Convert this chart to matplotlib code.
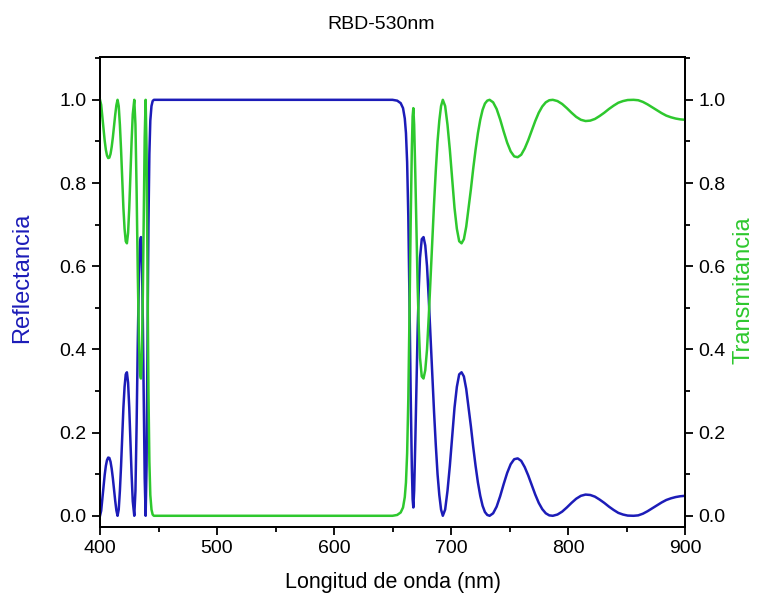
import matplotlib
matplotlib.use("Agg")
import matplotlib.pyplot as plt
from matplotlib.ticker import MultipleLocator

plt.rcParams['font.family'] = ['Liberation Sans', 'DejaVu Sans']

# values
wavelength = [400, 401, 402, 403, 404, 405, 406, 407, 408, 409,
              410, 411, 412, 413, 414, 415, 416, 417, 418, 419,
              420, 421, 422, 423, 424, 425, 426, 427, 428, 429.3,
              430.3, 431.3, 432.3, 433.3, 434.3, 435, 435.8, 436.6, 437.4, 438.2,
              439, 439.8, 440.6, 441.4, 442.2, 443, 444, 445, 446, 500,
              600, 650, 654, 657, 659, 660.5, 661.5, 662.5, 663.5, 664.5,
              665.5, 666.5, 667.2, 667.8, 668.5, 669.5, 670.5, 671.5, 672.5, 673.5,
              675, 676.5, 678, 679.5, 681, 682.5, 684, 685.5, 687, 688.5,
              690, 691.5, 693, 695, 697, 699, 701, 703, 705, 707,
              709, 711, 713, 715, 717, 719, 721, 723, 725, 727,
              729, 731, 733, 736, 739, 742, 745, 748, 751, 754,
              757, 760, 763, 766, 769, 772, 775, 778, 781, 784,
              787, 791, 795, 799, 803, 807, 811, 815, 819, 823,
              827, 831, 835, 839, 843, 847, 851, 856, 860, 864,
              868, 872, 876, 880, 884, 888, 892, 896, 900]

reflectance = [0.0, 0.012, 0.04, 0.07, 0.098, 0.12, 0.134, 0.14, 0.139, 0.13,
               0.113, 0.09, 0.063, 0.036, 0.013, 0.0, 0.015, 0.06, 0.12, 0.19,
               0.26, 0.31, 0.34, 0.345, 0.32, 0.26, 0.18, 0.1, 0.035, 0.0,
               0.06, 0.22, 0.42, 0.58, 0.66, 0.67, 0.62, 0.47, 0.27, 0.09,
               0.0, 0.12, 0.42, 0.7, 0.87, 0.95, 0.985, 0.997, 1.0, 1.0,
               1.0, 1.0, 0.998, 0.992, 0.98, 0.955, 0.92, 0.85, 0.72, 0.52,
               0.3, 0.12, 0.04, 0.02, 0.06, 0.18, 0.32, 0.45, 0.55, 0.62,
               0.665, 0.67, 0.65, 0.6, 0.52, 0.43, 0.34, 0.25, 0.17, 0.1,
               0.05, 0.015, 0.0, 0.015, 0.06, 0.12, 0.19, 0.26, 0.31, 0.34,
               0.345, 0.335, 0.305, 0.26, 0.215, 0.165, 0.12, 0.08, 0.048, 0.024,
               0.009, 0.002, 0.0, 0.006, 0.022, 0.047, 0.076, 0.103, 0.124, 0.136,
               0.138, 0.132, 0.117, 0.097, 0.074, 0.051, 0.031, 0.016, 0.006, 0.001,
               0.0, 0.003, 0.01, 0.02, 0.031, 0.041, 0.048, 0.051, 0.05, 0.046,
               0.039, 0.031, 0.022, 0.014, 0.007, 0.003, 0.0005, 0.0, 0.001, 0.005,
               0.011, 0.018, 0.025, 0.032, 0.038, 0.042, 0.045, 0.047, 0.048]

transmittance = [1.0, 0.988, 0.96, 0.93, 0.902, 0.88, 0.866, 0.86, 0.861, 0.87,
                 0.887, 0.91, 0.937, 0.964, 0.987, 1.0, 0.985, 0.94, 0.88, 0.81,
                 0.74, 0.69, 0.66, 0.655, 0.68, 0.74, 0.82, 0.9, 0.965, 1.0,
                 0.94, 0.78, 0.58, 0.42, 0.34, 0.33, 0.38, 0.53, 0.73, 0.91,
                 1.0, 0.88, 0.58, 0.3, 0.13, 0.05, 0.015, 0.003, 0.0, 0.0,
                 0.0, 0.0, 0.002, 0.008, 0.02, 0.045, 0.08, 0.15, 0.28, 0.48,
                 0.7, 0.88, 0.96, 0.98, 0.94, 0.82, 0.68, 0.55, 0.45, 0.38,
                 0.335, 0.33, 0.35, 0.4, 0.48, 0.57, 0.66, 0.75, 0.83, 0.9,
                 0.95, 0.985, 1.0, 0.985, 0.94, 0.88, 0.81, 0.74, 0.69, 0.66,
                 0.655, 0.665, 0.695, 0.74, 0.785, 0.835, 0.88, 0.92, 0.952, 0.976,
                 0.991, 0.998, 1.0, 0.994, 0.978, 0.953, 0.924, 0.897, 0.876, 0.864,
                 0.862, 0.868, 0.883, 0.903, 0.926, 0.949, 0.969, 0.984, 0.994, 0.999,
                 1.0, 0.997, 0.99, 0.98, 0.969, 0.959, 0.952, 0.949, 0.95, 0.954,
                 0.961, 0.969, 0.978, 0.986, 0.993, 0.997, 0.9995, 1.0, 0.999, 0.995,
                 0.989, 0.982, 0.975, 0.968, 0.962, 0.958, 0.955, 0.953, 0.952]

blue = '#1c1cb8'
green = '#2ec82e'

fig = plt.figure(figsize=(7.57, 6.01), dpi=100)
ax = fig.add_axes([0.1321, 0.1231, 0.7728, 0.7821])
ax2 = ax.twinx()

ax.plot(wavelength, reflectance, color=blue, lw=1.8)
ax2.plot(wavelength, transmittance, color=green, lw=1.8)

for a in (ax, ax2):
    a.set_xlim(400, 900)
    a.set_ylim(-0.027, 1.103)
    a.yaxis.set_major_locator(MultipleLocator(0.2))
    a.yaxis.set_minor_locator(MultipleLocator(0.1))
    a.yaxis.set_major_formatter(plt.FuncFormatter(lambda v, p: '%.1f' % v))
    a.tick_params(which='major', direction='out', length=6, width=1.3, labelsize=14)
    a.tick_params(which='minor', direction='out', length=3.5, width=1.3)
    for s in a.spines.values():
        s.set_linewidth(1.3)

ax.xaxis.set_major_locator(MultipleLocator(100))
ax.xaxis.set_minor_locator(MultipleLocator(50))

ax.set_xlabel('Longitud de onda (nm)', fontsize=15.5, labelpad=11)
fig.text(22 / 757, 1 - 278 / 601, 'Reflectancia', rotation=90, fontsize=17,
         color=blue, ha='center', va='center')
fig.text(744 / 757, 1 - 290 / 601, 'Transmitancia', rotation=90, fontsize=17,
         color=green, ha='center', va='center')
ax.set_title('RBD-530nm', fontsize=14, pad=20, x=0.48)

fig.savefig('out.png', dpi=100)
